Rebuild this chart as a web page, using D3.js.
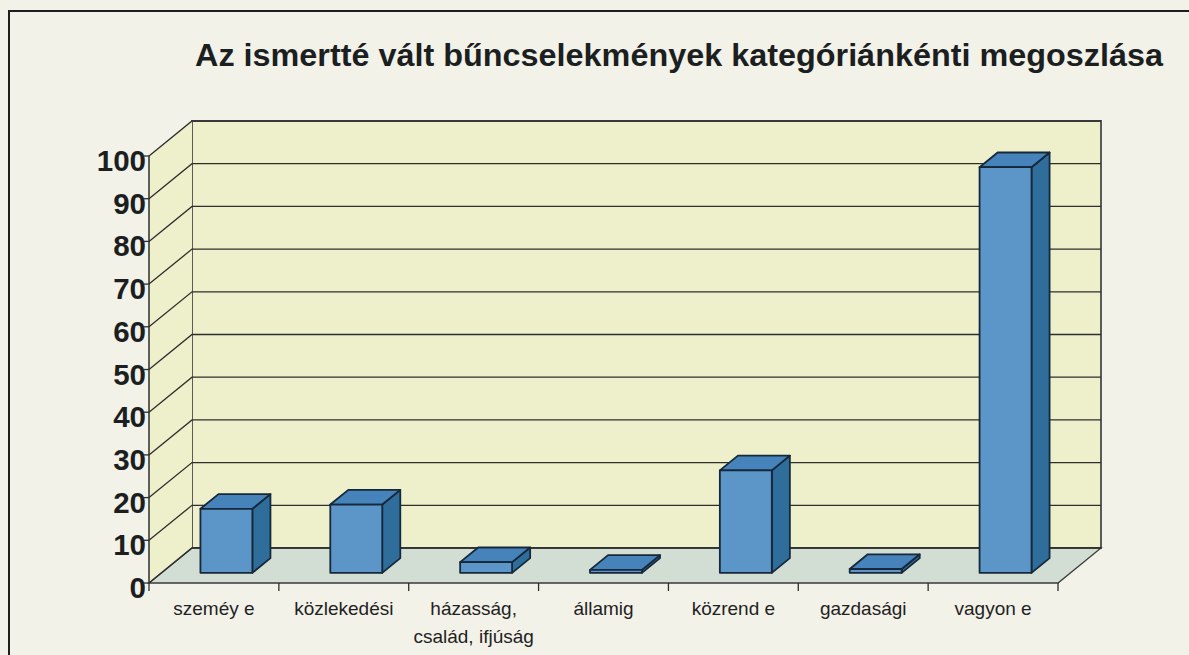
<!DOCTYPE html>
<html><head><meta charset="utf-8">
<script src="https://cdn.jsdelivr.net/npm/d3@7"></script>
<style>html,body{margin:0;padding:0;background:#f3f2e9;}svg{display:block;}</style>
</head><body>
<svg id="c" width="1189" height="655"></svg>
<script>
const title = "Az ismertté vált bűncselekmények kategóriánkénti megoszlása";
const categories = ["szemé‌y e", "közlekedési", "házasság,\ncsalád, ifjúság", "államig", "közrend e", "gazdasági", "vagyon e"].map(s => s.replace("\u200c",""));
const values = [15, 16, 2.5, 0.7, 24, 0.9, 95];
const yTicks = [0,10,20,30,40,50,60,70,80,90,100];

const svg = d3.select("#c");
const font = "'Liberation Sans', Arial, sans-serif";
// depth vector (front plane -> back wall)
const DX = 43, DY = -35;
const x = d3.scaleBand().domain(categories).range([149, 1058]).paddingInner(0).paddingOuter(0);
const y = d3.scaleLinear().domain([0, 100]).range([583, 156]);
const P = (px, v, t) => [px + DX * t, y(v) + DY * t];
const pts = a => a.map(p => p.join(",")).join(" ");

// outer frame
svg.append("rect").attr("x", 9).attr("y", 11).attr("width", 1200).attr("height", 700)
  .attr("fill", "none").attr("stroke", "#1e1e1e").attr("stroke-width", 2);

// title
svg.append("text").attr("x", 195).attr("y", 66).attr("font-family", font).attr("font-weight", "bold")
  .attr("font-size", 31).attr("fill", "#1c1f1f")
  .attr("textLength", 968).attr("lengthAdjust", "spacingAndGlyphs").text(title);

const x0 = x.range()[0], x1 = x.range()[1];
// back wall
svg.append("polygon").attr("points", pts([P(x0,0,1), P(x1,0,1), P(x1,100,1), P(x0,100,1)]))
  .attr("fill", "#eef0cb").attr("stroke", "#5a5a5a").attr("stroke-width", 2);
// left wall
svg.append("polygon").attr("points", pts([P(x0,0,0), P(x0,0,1), P(x0,100,1), P(x0,100,0)]))
  .attr("fill", "#eef0cb").attr("stroke", "none");
// floor
svg.append("polygon").attr("points", pts([P(x0,0,0), P(x1,0,0), P(x1,0,1), P(x0,0,1)]))
  .attr("fill", "#d2ddd4").attr("stroke", "#3a3a3a").attr("stroke-width", 1.3);

// gridlines
const g = svg.append("g").attr("stroke", "#2e2e2e").attr("stroke-width", 1.3).attr("fill", "none");
yTicks.forEach(v => {
  g.append("polyline").attr("points", pts([P(x0, v, 0), P(x0, v, 1), P(x1, v, 1)]));
});
// left axis line
svg.append("line").attr("x1", x0).attr("x2", x0).attr("y1", y(0)).attr("y2", y(100))
  .attr("stroke", "#2e2e2e").attr("stroke-width", 1.5);
// small ticks on value axis
yTicks.forEach(v => {
  svg.append("line").attr("x1", x0 - 5).attr("x2", x0).attr("y1", y(v)).attr("y2", y(v))
    .attr("stroke", "#2e2e2e").attr("stroke-width", 1.3);
});
// category ticks
const bounds = categories.map(c => x(c)).concat([x1]);
bounds.forEach(bx => {
  svg.append("line").attr("x1", bx).attr("x2", bx).attr("y1", y(0)).attr("y2", y(0) + 8)
    .attr("stroke", "#2e2e2e").attr("stroke-width", 1.3);
});

// y labels
svg.append("g").selectAll("text").data(yTicks).join("text")
  .attr("x", 146).attr("y", d => y(d) + 15).attr("text-anchor", "end")
  .attr("font-family", font).attr("font-weight", "bold").attr("font-size", 29.5)
  .attr("fill", "#1c1f1f").text(d => d);

// x labels
const xl = svg.append("g").attr("font-family", font).attr("font-size", 19).attr("fill", "#1f2222")
  .attr("text-anchor", "middle");
categories.forEach(c => {
  const t = xl.append("text").attr("x", x(c) + x.bandwidth() / 2).attr("y", 615);
  c.split("\n").forEach((line, i) => {
    t.append("tspan").attr("x", x(c) + x.bandwidth() / 2).attr("dy", i ? 28 : 0).text(line);
  });
});

// bars
const t1 = 0.29, t2 = 0.71, bw = x.bandwidth() * 0.4;
const bars = svg.append("g").attr("stroke", "#16283a").attr("stroke-width", 1.8).attr("stroke-linejoin", "round");
categories.forEach((c, i) => {
  const v = values[i];
  const cx = x(c) + x.bandwidth() / 2;
  const L = cx - bw / 2, R = cx + bw / 2;
  // right side
  bars.append("polygon").attr("points", pts([P(R,0,t1), P(R,0,t2), P(R,v,t2), P(R,v,t1)])).attr("fill", "#2f6e9b");
  // top
  bars.append("polygon").attr("points", pts([P(L,v,t1), P(R,v,t1), P(R,v,t2), P(L,v,t2)])).attr("fill", "#4683bb");
  // front
  bars.append("polygon").attr("points", pts([P(L,0,t1), P(R,0,t1), P(R,v,t1), P(L,v,t1)])).attr("fill", "#5c96c9");
});
</script>
</body></html>
